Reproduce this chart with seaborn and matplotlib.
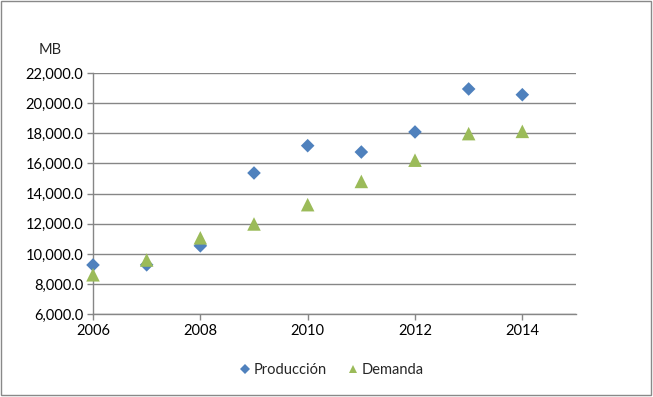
import matplotlib
matplotlib.use("Agg")
import matplotlib.pyplot as plt
import matplotlib.ticker as mticker
from matplotlib.patches import Rectangle
import seaborn as sns
import pandas as pd

years = [2006, 2007, 2008, 2009, 2010, 2011, 2012, 2013, 2014]
produccion = [9270, 9280, 10540, 15370, 17180, 16760, 18090, 20940, 20560]
demanda = [8620, 9600, 11070, 11990, 13270, 14810, 16220, 17980, 18130]
series_names = ["Producción", "Demanda"]
y_label = "MB"

df = pd.DataFrame({
    "year": years * 2,
    "value": produccion + demanda,
    "serie": [series_names[0]] * len(years) + [series_names[1]] * len(years),
})

sns.set_style("white")
plt.rcParams["font.family"] = ["Lato", "DejaVu Sans"]

fig = plt.figure(figsize=(6.53, 3.97), dpi=100)
ax = fig.add_axes([93 / 653, 1 - 314.3 / 397, (576 - 93) / 653, (314.3 - 73) / 397])

palette = {series_names[0]: "#4F81BD", series_names[1]: "#9BBB59"}
markers = {series_names[0]: "D", series_names[1]: "^"}
sizes = {series_names[0]: 48, series_names[1]: 95}
sns.scatterplot(data=df, x="year", y="value", hue="serie", style="serie",
                size="serie", sizes=sizes,
                palette=palette, markers=markers, linewidth=0,
                ax=ax, zorder=3, legend=True, clip_on=False)

ax.set_xlim(2006, 2015)
ax.set_ylim(6000, 22000)
ax.set_xticks([2006, 2008, 2010, 2012, 2014])
ax.set_yticks(range(6000, 22001, 2000))
ax.yaxis.set_major_formatter(mticker.FuncFormatter(lambda v, p: f"{v:,.1f}"))
ax.set_xlabel("")
ax.set_ylabel("")

gc = "#868686"
ax.grid(axis="y", color=gc, linewidth=1)
ax.grid(axis="x", visible=False)
for s in ["top", "right"]:
    ax.spines[s].set_visible(False)
for s in ["left", "bottom"]:
    ax.spines[s].set_color(gc)
    ax.spines[s].set_linewidth(1)
ax.tick_params(axis="both", which="major", length=4, color=gc, width=1,
               labelsize=10.5, labelcolor="#000000", pad=3, direction="out")
ax.tick_params(axis="y", left=True)
ax.tick_params(axis="x", bottom=True)

ax.text(50 / 653, 1 - 50 / 397, y_label, transform=fig.transFigure,
        ha="center", va="center", fontsize=10.5)

handles, labels = ax.get_legend_handles_labels()
leg = ax.legend(handles=handles, labels=labels, loc="center",
                bbox_to_anchor=(330 / 653, 1 - 370 / 397),
                bbox_transform=fig.transFigure, ncol=2, frameon=False,
                fontsize=10.5, handletextpad=0.0, columnspacing=1.2,
                handlelength=1.2)
for h in leg.legend_handles:
    if hasattr(h, "set_sizes"):
        h.set_sizes([28])
    if hasattr(h, "set_markersize"):
        h.set_markersize(5.5)

fig.patches.append(Rectangle((0.002, 0.004), 0.995, 0.993, transform=fig.transFigure,
                             fill=False, edgecolor="#898989", linewidth=1))

fig.savefig("out.png", dpi=100)
